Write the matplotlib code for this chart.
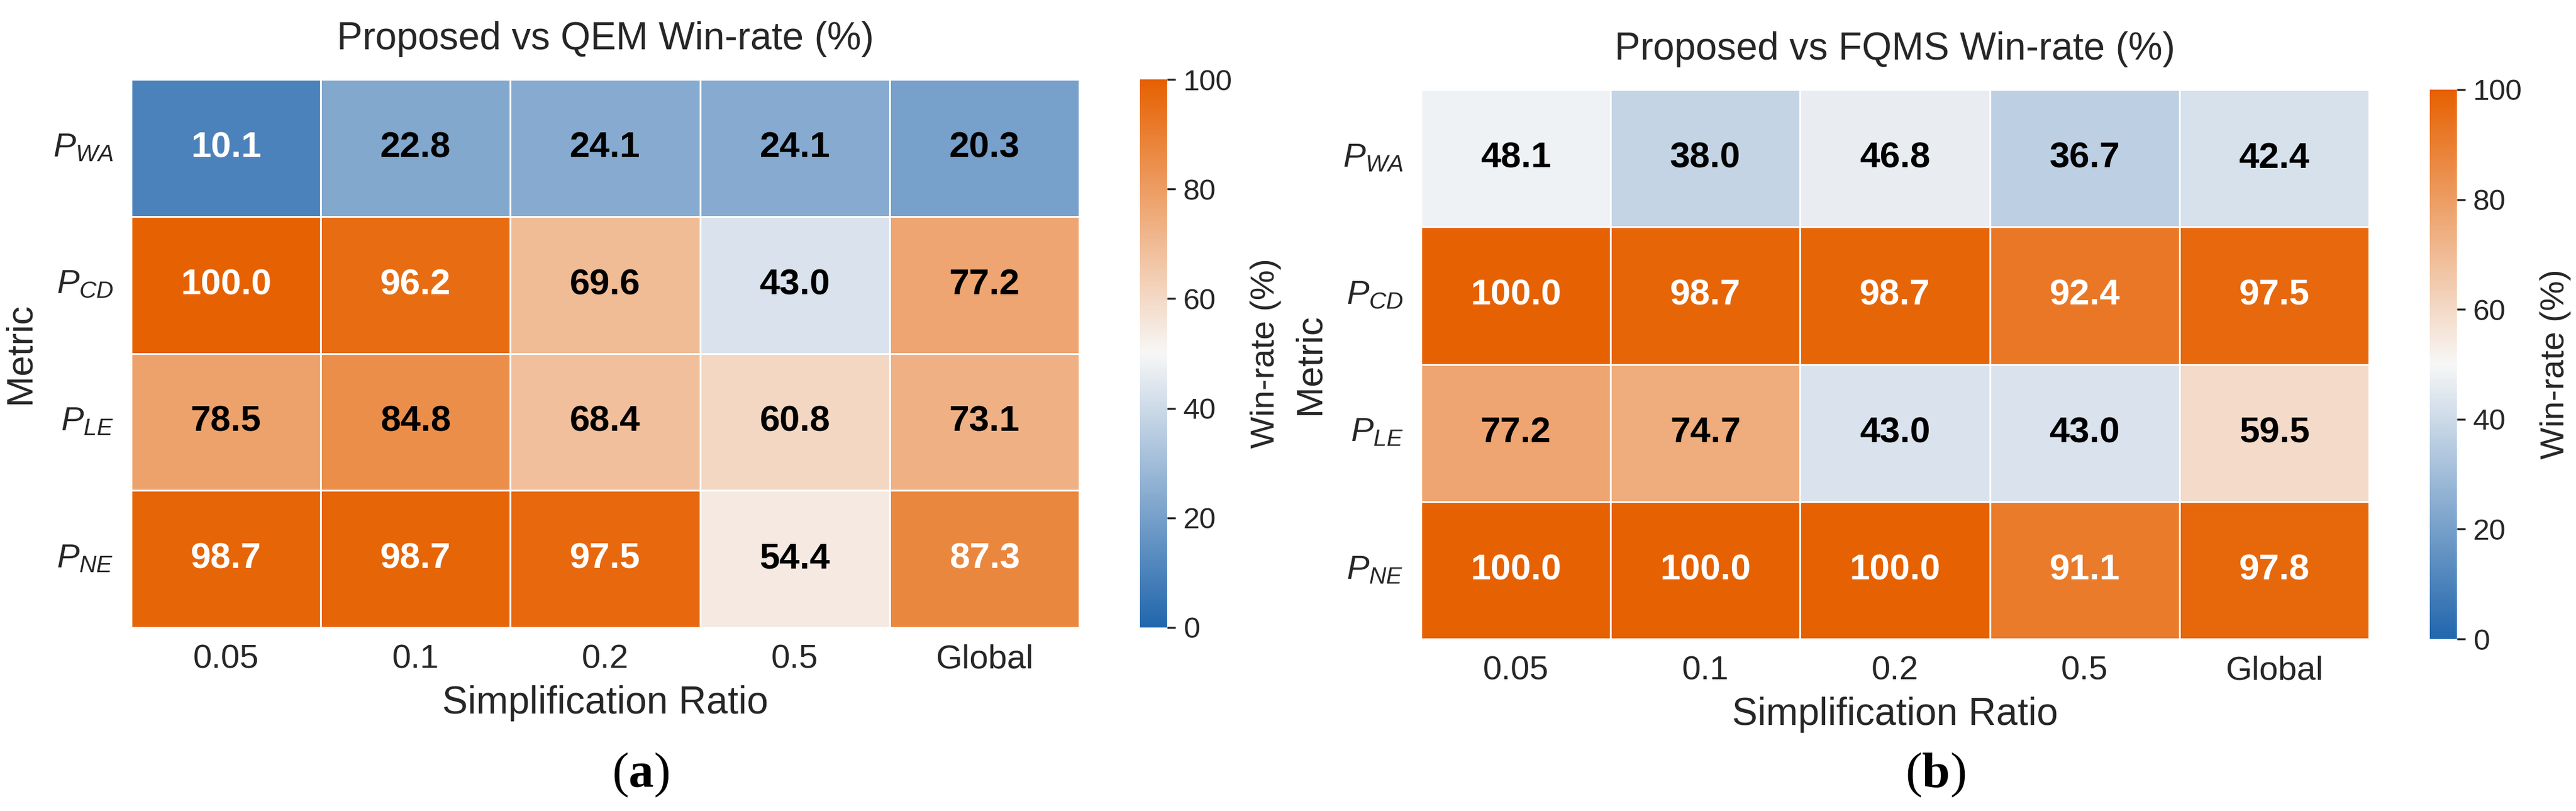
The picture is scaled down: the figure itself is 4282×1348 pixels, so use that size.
import numpy as np
import matplotlib
matplotlib.use("Agg")
import matplotlib.pyplot as plt
import seaborn as sns
from matplotlib.colors import LinearSegmentedColormap

# Data: win-rates (%) of the proposed method
ratios = ["0.05", "0.1", "0.2", "0.5", "Global"]
metrics = [r"$P_{WA}$", r"$P_{CD}$", r"$P_{LE}$", r"$P_{NE}$"]

qem_winrate = np.array([
    [10.1, 22.8, 24.1, 24.1, 20.3],
    [100.0, 96.2, 69.6, 43.0, 77.2],
    [78.5, 84.8, 68.4, 60.8, 73.1],
    [98.7, 98.7, 97.5, 54.4, 87.3],
])
fqms_winrate = np.array([
    [48.1, 38.0, 46.8, 36.7, 42.4],
    [100.0, 98.7, 98.7, 92.4, 97.5],
    [77.2, 74.7, 43.0, 43.0, 59.5],
    [100.0, 100.0, 100.0, 91.1, 97.8],
])

plt.rcParams['font.family'] = ['Liberation Sans', 'DejaVu Sans']
plt.rcParams['mathtext.fontset'] = 'custom'
plt.rcParams['mathtext.rm'] = 'Liberation Sans'
plt.rcParams['mathtext.it'] = 'Liberation Sans:italic'
plt.rcParams['mathtext.bf'] = 'Liberation Serif:bold'

cmap = LinearSegmentedColormap.from_list("win", ["#2166ac", "#f7f7f7", "#e66101"])
txt_col = '#262626'

W, H = 4282, 1348
fig = plt.figure(figsize=(W / 300, H / 300), dpi=300)


def px_box(x0, y0, x1, y1):
    return [x0 / W, 1 - y1 / H, (x1 - x0) / W, (y1 - y0) / H]


def draw_panel(data, title, hm_box, cb_box):
    ax = fig.add_axes(px_box(*hm_box))
    cax = fig.add_axes(px_box(*cb_box))
    sns.heatmap(data, ax=ax, cbar_ax=cax, cmap=cmap, vmin=0, vmax=100,
                linewidths=0.6, linecolor='white', annot=False,
                xticklabels=ratios, yticklabels=metrics)
    # annotate cells, white text on the strong colours
    for i in range(data.shape[0]):
        for j in range(data.shape[1]):
            v = data[i, j]
            c = 'white' if abs(v - 50) > 35 else 'black'
            ax.text(j + 0.5, i + 0.5, f"{v:.1f}", ha='center', va='center',
                    fontsize=14.5, fontweight='bold', color=c)
    ax.set_title(title, fontsize=15.3, color=txt_col, pad=12)
    ax.set_xlabel("Simplification Ratio", fontsize=15.3, color=txt_col, labelpad=4)
    ax.set_ylabel("Metric", fontsize=14.8, color=txt_col, labelpad=6)
    ax.tick_params(axis='both', length=0, labelsize=13.5, colors=txt_col)
    ax.tick_params(axis='x', pad=6.5)
    ax.tick_params(axis='y', pad=7, labelrotation=0)
    cb = ax.collections[0].colorbar
    cb.outline.set_visible(False)
    cb.set_ticks([0, 20, 40, 60, 80, 100])
    cb.ax.tick_params(labelsize=11.8, length=3.4, width=0.8, colors=txt_col, pad=3)
    cb.set_label("Win-rate (%)", fontsize=13.5, color=txt_col, labelpad=7)
    return ax


draw_panel(qem_winrate, "Proposed vs QEM Win-rate (%)",
           (218, 132, 1794, 1043), (1895, 132, 1940, 1043))
draw_panel(fqms_winrate, "Proposed vs FQMS Win-rate (%)",
           (2362, 149, 3938, 1062), (4039, 149, 4084, 1062))

# sub-figure captions
fig.text(1065 / W, 1 - 1288 / H, r"($\mathbf{a}$)", ha='center', va='center',
         fontsize=20, family='Liberation Serif')
fig.text(3217 / W, 1 - 1288 / H, r"($\mathbf{b}$)", ha='center', va='center',
         fontsize=20, family='Liberation Serif')

fig.savefig("out.png", dpi=300, facecolor='white')
